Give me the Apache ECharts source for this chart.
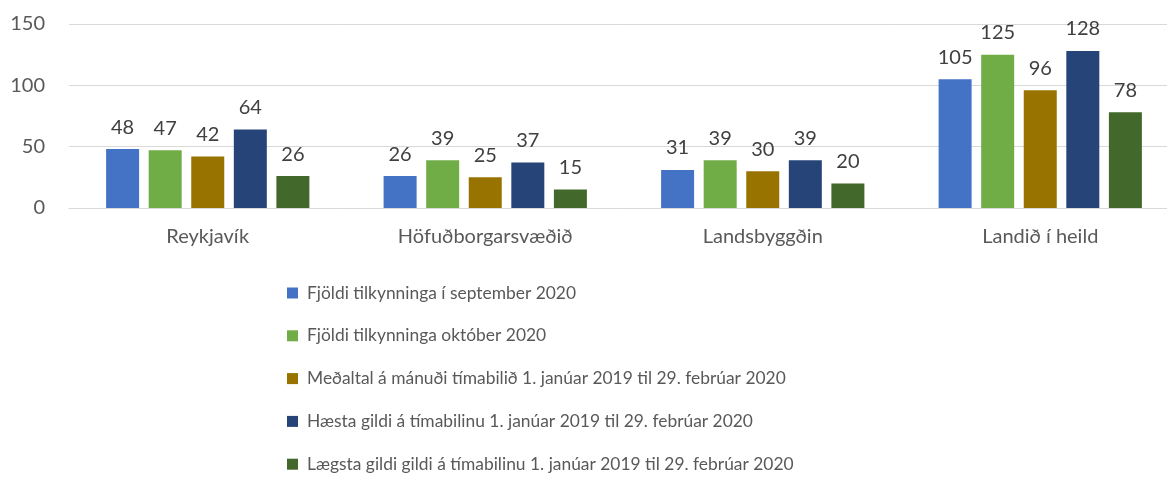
<!DOCTYPE html>
<html>
<head>
<meta charset="utf-8">
<script src="https://cdn.jsdelivr.net/npm/echarts@6/dist/echarts.min.js"></script>
<style>
  html, body { margin: 0; padding: 0; background: #fff; }
  #chart { width: 1167px; height: 482px; }
</style>
</head>
<body>
<div id="chart"></div>
<script>
const categories = ['Reykjavík', 'Höfuðborgarsvæðið', 'Landsbyggðin', 'Landið í heild']
const seriesNames = [
  'Fjöldi tilkynninga í september 2020',
  'Fjöldi tilkynninga október 2020',
  'Meðaltal á mánuði tímabilið 1. janúar 2019 til 29. febrúar 2020',
  'Hæsta gildi á tímabilinu 1. janúar 2019 til 29. febrúar 2020',
  'Lægsta gildi gildi á tímabilinu 1. janúar 2019 til 29. febrúar 2020',
]
const september = [48, 26, 31, 105]
const october = [47, 39, 39, 125]
const average = [42, 25, 30, 96]
const highest = [64, 37, 39, 128]
const lowest = [26, 15, 20, 78]
const colors = ['#4472C4', '#70AD47', '#997300', '#264478', '#43682B']

const font = 'Lato, "Open Sans", sans-serif'
const values = [september, october, average, highest, lowest]

const chart = echarts.init(document.getElementById('chart'))
chart.setOption({
  animation: false,
  textStyle: { fontFamily: font },
  // plot area runs a little past the right edge, like the cropped original
  grid: { left: 69, width: 1110, top: 24, height: 184, outerBoundsMode: 'none' },
  legend: {
    orient: 'vertical',
    left: 287,
    top: 282,
    height: 240,
    padding: 0,
    itemWidth: 11,
    itemHeight: 11,
    itemGap: 20.8,
    icon: 'rect',
    textStyle: { fontSize: 17.4, color: '#595959', lineHeight: 22, padding: [0, 0, 0, 4] },
    data: seriesNames,
  },
  xAxis: {
    type: 'category',
    data: categories,
    axisLine: { lineStyle: { color: '#D9D9D9' } },
    axisTick: { show: false },
    axisLabel: { fontSize: 20, color: '#595959', margin: 19 },
  },
  yAxis: {
    type: 'value',
    min: 0,
    max: 150,
    interval: 50,
    axisLine: { show: false },
    axisTick: { show: false },
    splitLine: { lineStyle: { color: '#D9D9D9' } },
    axisLabel: { fontSize: 20, color: '#595959', margin: 24 },
  },
  series: values.map((data, i) => ({
    name: seriesNames[i],
    type: 'bar',
    data: data,
    itemStyle: { color: colors[i] },
    barWidth: 33,
    barGap: '29%',
    label: {
      show: true,
      position: 'top',
      distance: 12,
      fontSize: 20,
      color: '#404040',
    },
  })),
})
</script>
</body>
</html>
